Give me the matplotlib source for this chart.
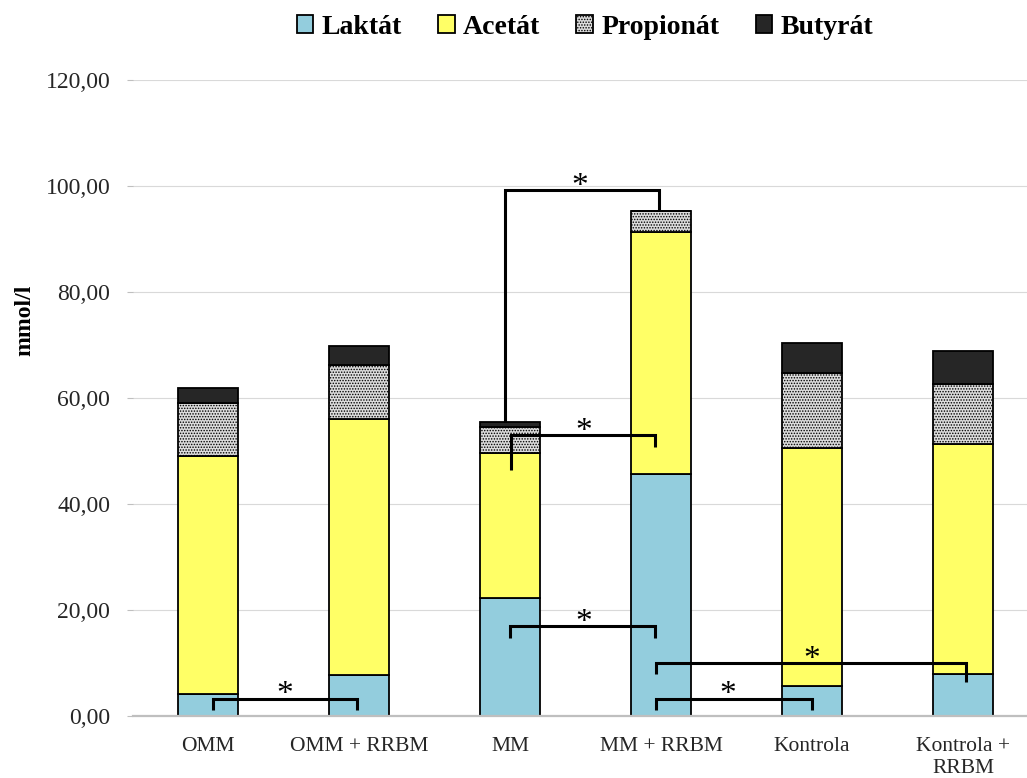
import matplotlib
matplotlib.use("Agg")
import matplotlib.pyplot as plt
import numpy as np

# Concentrations of organic acids (mmol/l) per group
groups = ["OMM", "OMM + RRBM", "MM", "MM + RRBM", "Kontrola", "Kontrola +\nRRBM"]
laktat = [4.15, 7.7, 22.3, 45.7, 5.7, 7.9]
acetat = [44.9, 48.3, 27.3, 45.7, 44.8, 43.4]
propionat = [10.0, 10.2, 5.0, 3.8, 14.2, 11.3]
butyrat = [2.8, 3.6, 0.9, 0.0, 5.7, 6.3]

series_names = ["Laktát", "Acetát", "Propionát", "Butyrát"]
yticks = [0, 20, 40, 60, 80, 100, 120]

plt.rcParams["font.family"] = ["Liberation Serif", "DejaVu Serif"]
plt.rcParams["hatch.linewidth"] = 0.7

fig = plt.figure(figsize=(10.27, 7.78), dpi=100)
ax = fig.add_axes([132.5 / 1027, (778 - 716) / 778, (1027 - 132.5) / 1027, 636 / 778])

x = np.arange(len(groups))
width = 0.4
styles = [
    dict(color="#93CDDD"),
    dict(color="#FFFF66"),
    dict(color="#DCDCDC", hatch="......"),
    dict(color="#262626"),
]

bottom = np.zeros(len(groups))
handles = []
for name, vals, st in zip(series_names, [laktat, acetat, propionat, butyrat], styles):
    vals = np.array(vals)
    bars = ax.bar(x, vals, width, bottom=bottom, facecolor=st["color"],
                  edgecolor="black", linewidth=1.3, hatch=st.get("hatch"),
                  zorder=3, label=name)
    handles.append(bars)
    bottom = bottom + vals
totals = bottom

# Significance brackets: (left x, right x, bar height, left leg end, right leg end, star x)
brackets = [
    (0.03, 0.99, 3.3, 1.1, 1.1, 0.51),
    (2.0, 2.96, 17.0, 14.7, 14.7, 2.49),
    (2.97, 4.0, 3.3, 1.1, 1.1, 3.44),
    (2.97, 5.02, 10.05, 7.9, 6.4, 4.0),
    (2.005, 2.96, 53.0, 46.4, 50.8, 2.49),
    (1.97, 2.99, 99.2, totals[2], totals[3], 2.46),
]
for x1, x2, yb, l1, l2, sx in brackets:
    ax.plot([x1, x1, x2, x2], [l1, yb, yb, l2], color="black", lw=2.2,
            solid_joinstyle="miter", solid_capstyle="butt", zorder=5)
    ax.text(sx, yb - 0.9, "*", ha="center", va="baseline", fontsize=24,
            color="black", zorder=6)

ax.set_xlim(-0.5, -0.5 + (1027 - 132.5) / 151)
ax.set_ylim(0, 120)
ax.set_yticks(yticks)
ax.set_yticklabels([f"{v:.2f}".replace(".", ",") for v in yticks])
ax.set_xticks(x)
ax.set_xticklabels(groups)

ax.yaxis.grid(True, color="#D9D9D9", linewidth=0.8, zorder=0)
ax.set_axisbelow(True)
for side in ["left", "right", "top"]:
    ax.spines[side].set_visible(False)
ax.spines["bottom"].set_color("#BFBFBF")
ax.spines["bottom"].set_linewidth(1.6)
ax.spines["bottom"].set_zorder(4)

ax.tick_params(axis="y", length=4, color="#BFBFBF", width=0.8, pad=12,
               labelsize=17, labelcolor="#262626")
ax.tick_params(axis="x", length=0, pad=15, labelsize=15.5, labelcolor="#262626")
for lbl in ax.get_xticklabels():
    lbl.set_linespacing(1.2)

fig.text(25 / 1027, 1 - 320 / 778, "mmol/l", rotation=90, ha="center",
         va="center", fontsize=17, fontweight="bold")

fig.legend(handles=handles, labels=series_names, loc="center",
           bbox_to_anchor=(585 / 1027, 1 - 27 / 778), ncol=4, frameon=False,
           prop=dict(weight="bold", size=20), handlelength=0.6, handleheight=0.6,
           handletextpad=0.3, columnspacing=1.3, borderaxespad=0)

fig.savefig("out.png", dpi=100)
